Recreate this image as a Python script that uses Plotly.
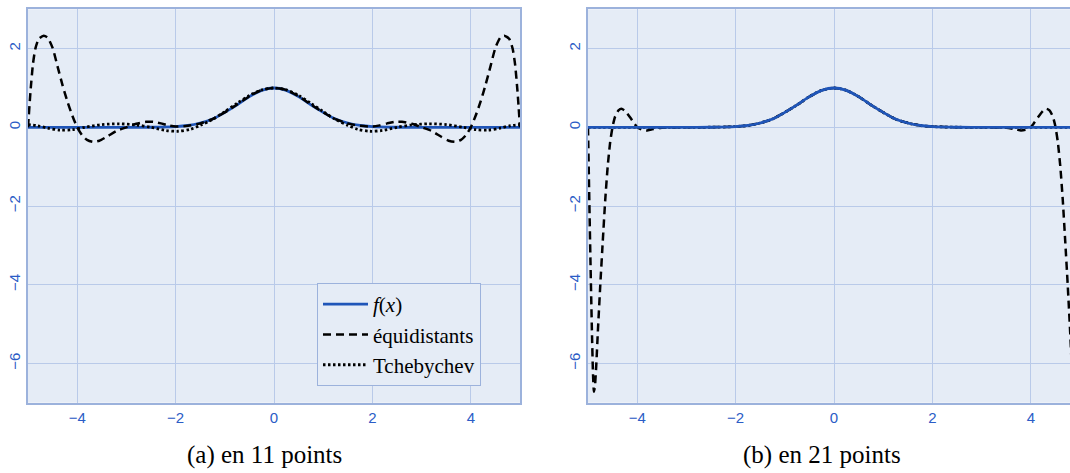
import plotly.graph_objects as go

# ---------------- data ----------------
# f(x) (same curve in both panels)
X_F = [-5, -4, -3, -2.5, -2, -1.75, -1.5, -1.25, -1, -0.75, -0.5, -0.25, 0,
       0.25, 0.5, 0.75, 1, 1.25, 1.5, 1.75, 2, 2.5, 3, 4, 5]
Y_F = [0, 0, 0, 0.002, 0.018, 0.047, 0.11, 0.21, 0.38, 0.57, 0.78, 0.94, 1.0,
       0.94, 0.78, 0.57, 0.38, 0.21, 0.11, 0.047, 0.018, 0.002, 0, 0, 0]

# (a) 11 points - equidistant nodes (dashed)
X_EQ11 = [-5, -4.95, -4.9, -4.85, -4.78, -4.68, -4.6, -4.5, -4.4, -4.3, -4.2, -4.1, -4.0,
          -3.9, -3.8, -3.68, -3.55, -3.4, -3.2, -3.0, -2.8, -2.6, -2.45, -2.3, -2.15, -2.0,
          -1.75, -1.5, -1.25, -1.0, -0.75, -0.5, -0.25, 0,
          0.25, 0.5, 0.75, 1.0, 1.25, 1.5, 1.75,
          2.0, 2.15, 2.3, 2.45, 2.6, 2.8, 3.0, 3.2, 3.4, 3.55, 3.68, 3.8, 3.9,
          4.0, 4.1, 4.2, 4.3, 4.4, 4.5, 4.6, 4.68, 4.78, 4.85, 4.9, 4.95, 5]
Y_EQ11 = [0, 0.9, 1.6, 2.0, 2.25, 2.33, 2.28, 2.02, 1.55, 1.08, 0.66, 0.3, 0.0,
          -0.2, -0.32, -0.37, -0.34, -0.24, -0.09, 0.0, 0.09, 0.14, 0.14, 0.1, 0.05, 0.018,
          0.04, 0.1, 0.21, 0.38, 0.58, 0.79, 0.95, 1.0,
          0.95, 0.79, 0.58, 0.38, 0.21, 0.1, 0.04,
          0.018, 0.05, 0.1, 0.14, 0.14, 0.09, 0.0, -0.09, -0.24, -0.34, -0.37, -0.32, -0.2,
          0.0, 0.3, 0.66, 1.08, 1.55, 2.02, 2.28, 2.33, 2.25, 2.0, 1.6, 0.9, 0]

# (a) 11 points - Chebyshev nodes (dotted)
X_CH11 = [-5, -4.8, -4.6, -4.35, -4.1, -3.85, -3.5, -3.15, -2.8, -2.5, -2.2, -1.95, -1.7,
          -1.5, -1.25, -1.0, -0.75, -0.5, -0.25, 0,
          0.25, 0.5, 0.75, 1.0, 1.25, 1.5,
          1.7, 1.95, 2.2, 2.5, 2.8, 3.15, 3.5, 3.85, 4.1, 4.35, 4.6, 4.8, 5]
Y_CH11 = [0.07, 0.04, -0.02, -0.07, -0.06, 0.0, 0.07, 0.09, 0.06, 0.0, -0.08, -0.1, -0.05,
          0.05, 0.2, 0.4, 0.61, 0.81, 0.95, 1.0,
          0.95, 0.81, 0.61, 0.4, 0.2, 0.05,
          -0.05, -0.1, -0.08, 0.0, 0.06, 0.09, 0.07, 0.0, -0.06, -0.07, -0.02, 0.04, 0.07]

# (b) 21 points - equidistant nodes (dashed)
X_EQ21 = [-5, -4.98, -4.95, -4.92, -4.9, -4.88, -4.86, -4.83, -4.8, -4.75, -4.7, -4.65, -4.6,
          -4.55, -4.5, -4.45, -4.38, -4.32, -4.25, -4.15, -4.05, -4.0, -3.9, -3.8, -3.7, -3.5,
          -3.0, -2.5, -2, -1.75, -1.5, -1.25, -1, -0.75, -0.5, -0.25, 0,
          0.25, 0.5, 0.75, 1, 1.25, 1.5, 1.75, 2, 2.5, 3.0,
          3.5, 3.7, 3.8, 3.9, 4.0, 4.05, 4.15, 4.25, 4.32, 4.38, 4.45, 4.5, 4.55,
          4.6, 4.65, 4.7, 4.75, 4.8, 4.83, 4.86, 4.88, 4.9, 4.92, 4.95, 4.98, 5]
Y_EQ21 = [0, -1.4, -3.4, -5.2, -6.2, -6.72, -6.6, -6.0, -5.2, -4.0, -2.9, -1.85, -1.0,
          -0.38, 0.02, 0.27, 0.43, 0.47, 0.42, 0.26, 0.08, 0.0, -0.06, -0.08, -0.05, -0.01,
          0, 0.002, 0.018, 0.047, 0.11, 0.21, 0.38, 0.57, 0.78, 0.94, 1.0,
          0.94, 0.78, 0.57, 0.38, 0.21, 0.11, 0.047, 0.018, 0.002, 0,
          -0.01, -0.05, -0.08, -0.06, 0.0, 0.08, 0.26, 0.42, 0.47, 0.43, 0.27, 0.02, -0.38,
          -1.0, -1.85, -2.9, -4.0, -5.2, -6.0, -6.6, -6.72, -6.2, -5.2, -3.4, -1.4, 0]

# (b) 21 points - Chebyshev nodes (dotted), indistinguishable from f
X_CH21 = X_F
Y_CH21 = [0, 0, 0, 0.002, 0.018, 0.047, 0.11, 0.21, 0.38, 0.57, 0.78, 0.94, 1.0,
          0.94, 0.78, 0.57, 0.38, 0.21, 0.11, 0.047, 0.018, 0.002, 0, 0, 0]

NAMES = ["<i>f</i>(<i>x</i>)", "équidistants", "Tchebychev"]
CAPTIONS = ["(a) en 11 points", "(b) en 21 points"]
Y_TICKS = [2, 0, -2, -4, -6]
X_TICKS = [-4, -2, 0, 2, 4]

# ---------------- styling ----------------
W, H = 1070, 473
BLUE = "#1f55b8"
BG = "#e5ecf6"
GRID = "#b9cae9"
AXLINE = "#9cb2dc"
TICKC = "#2b5cc6"
SERIF = "Liberation Serif, Times New Roman, serif"

fig = go.Figure()

line_f = dict(color=BLUE, width=2.8)
line_eq = dict(color="black", width=2.5, dash="8px,5px")
line_ch = dict(color="black", width=2.8, dash="2.5px,2.5px")

# panel (a)
fig.add_trace(go.Scatter(x=X_F, y=Y_F, mode="lines", name=NAMES[0], line=dict(**line_f, shape="spline", smoothing=0.8),
                         xaxis="x", yaxis="y"))
fig.add_trace(go.Scatter(x=X_EQ11, y=Y_EQ11, mode="lines", name=NAMES[1], line=dict(**line_eq, shape="spline", smoothing=0.6),
                         xaxis="x", yaxis="y"))
fig.add_trace(go.Scatter(x=X_CH11, y=Y_CH11, mode="lines", name=NAMES[2], line=dict(**line_ch, shape="spline", smoothing=0.8),
                         xaxis="x", yaxis="y"))
# panel (b)
fig.add_trace(go.Scatter(x=X_EQ21, y=Y_EQ21, mode="lines", name=NAMES[1], line=dict(**line_eq, shape="spline", smoothing=0.5),
                         xaxis="x2", yaxis="y2", showlegend=False))
fig.add_trace(go.Scatter(x=X_CH21, y=Y_CH21, mode="lines", name=NAMES[2], line=dict(**line_ch, shape="spline", smoothing=0.8),
                         xaxis="x2", yaxis="y2", showlegend=False))
fig.add_trace(go.Scatter(x=X_F, y=Y_F, mode="lines", name=NAMES[0], line=dict(**line_f, shape="spline", smoothing=0.8),
                         xaxis="x2", yaxis="y2", showlegend=False))

# geometry (pixels -> paper)
LX0, LX1 = 28, 520
RX0, RX1 = 588, 1080
TOP, BOT = 9.3, 402.7
yd = [1 - BOT / H, 1 - TOP / H]
px_per_unit = (RX1 - RX0) / 10.0
right_max = -5 + (W - RX0) / px_per_unit

common_x = dict(tickvals=X_TICKS, ticktext=[("−" + str(-v)) if v < 0 else str(v) for v in X_TICKS],
                showgrid=True, gridcolor=GRID, gridwidth=1, zeroline=False,
                showline=True, linecolor=AXLINE, linewidth=2, mirror=True,
                ticks="", tickfont=dict(family="Liberation Sans, Arial, sans-serif", size=15, color=TICKC),
                automargin=False)
common_y = dict(range=[-7, 3], tickvals=Y_TICKS, ticktext=[("−" + str(-v)) if v < 0 else str(v) for v in Y_TICKS],
                showgrid=True, gridcolor=GRID, gridwidth=1, zeroline=False,
                showline=True, linecolor=AXLINE, linewidth=2,
                ticks="", tickangle=-90,
                tickfont=dict(family="Liberation Sans, Arial, sans-serif", size=15, color=TICKC),
                automargin=False, domain=yd)

fig.update_layout(
    width=W, height=H,
    margin=dict(l=0, r=0, t=0, b=0),
    paper_bgcolor="white", plot_bgcolor=BG,
    xaxis=dict(**common_x, domain=[LX0 / W, LX1 / W], range=[-5, 5], anchor="y"),
    yaxis=dict(**common_y, mirror=True, anchor="x"),
    xaxis2=dict(**common_x, domain=[RX0 / W, 1.0], range=[-5, right_max], anchor="y2"),
    yaxis2=dict(**common_y, mirror=False, anchor="x2"),
    showlegend=True,
    legend=dict(x=317 / W, y=1 - 283 / H, xanchor="left", yanchor="top",
                bgcolor=BG, bordercolor=AXLINE, borderwidth=1,
                font=dict(family=SERIF, size=21, color="black"),
                itemwidth=45),
)

fig.add_annotation(text=CAPTIONS[0], x=264 / W, y=1 - 455 / H, xref="paper", yref="paper",
                   showarrow=False, xanchor="center", yanchor="middle",
                   font=dict(family=SERIF, size=25, color="black"))
fig.add_annotation(text=CAPTIONS[1], x=822 / W, y=1 - 455 / H, xref="paper", yref="paper",
                   showarrow=False, xanchor="center", yanchor="middle",
                   font=dict(family=SERIF, size=25, color="black"))

fig.write_html("out.html", config={"displayModeBar": False},
               post_script="document.body.style.margin='0px';document.body.style.overflow='hidden';")
